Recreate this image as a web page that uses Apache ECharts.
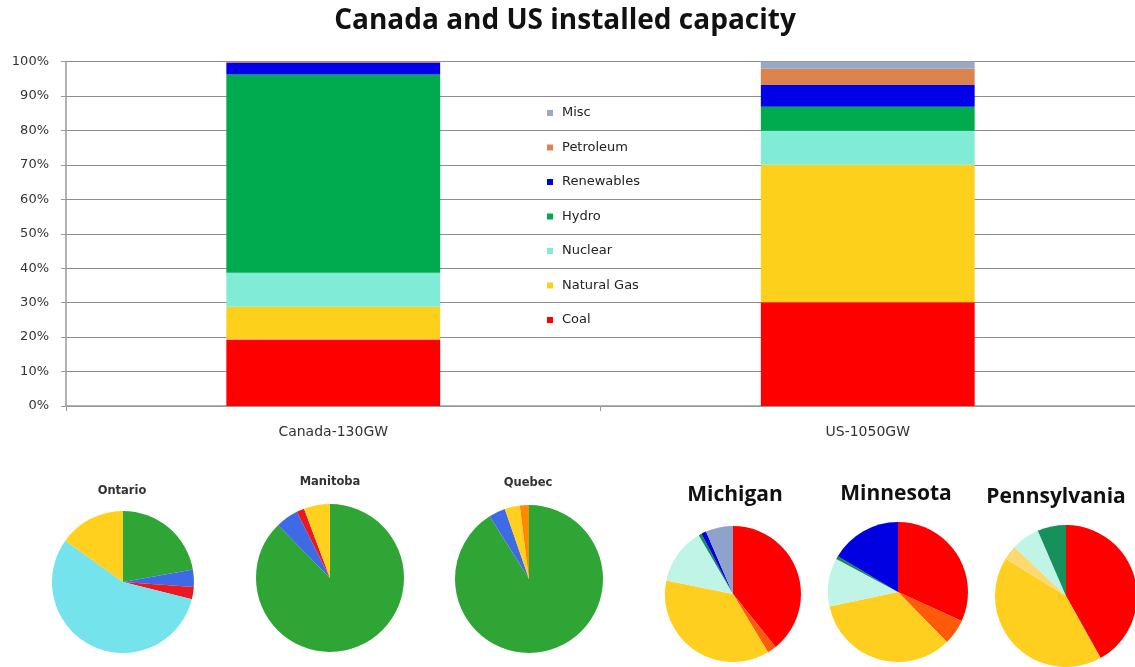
<!DOCTYPE html>
<html>
<head>
<meta charset="utf-8">
<script src="https://cdn.jsdelivr.net/npm/echarts@6/dist/echarts.min.js"></script>
<style>
  html, body { margin: 0; padding: 0; background: #fff; }
  #chart { width: 1135px; height: 667px; }
</style>
</head>
<body>
<div id="chart"></div>
<script>
// ---- Installed capacity share (%) by source ----
const countries = ['Canada-130GW', 'US-1050GW'];
const sources = ['Coal', 'Natural Gas', 'Nuclear', 'Hydro', 'Renewables', 'Petroleum', 'Misc'];
const coal       = [19.3, 30.1];
const naturalGas = [9.5, 39.9];
const nuclear    = [9.9, 9.9];
const hydro      = [57.5, 7.0];
const renewables = [3.5, 6.3];
const petroleum  = [0.3, 4.7];
const misc       = [0.0, 2.1];
const yTicks = [0, 10, 20, 30, 40, 50, 60, 70, 80, 90, 100];

// ---- Provincial / state mixes (share %, clockwise from 12 o'clock) ----
const ontarioNames   = ['Hydro', 'Renewables', 'Coal', 'Nuclear', 'Natural Gas'];
const ontarioValues  = [22.2, 3.9, 2.8, 56.0, 15.1];
const manitobaNames  = ['Hydro', 'Renewables', 'Coal', 'Natural Gas'];
const manitobaValues = [87.6, 5.0, 1.7, 5.7];
const quebecNames    = ['Hydro', 'Renewables', 'Natural Gas', 'Petroleum'];
const quebecValues   = [91.1, 3.6, 3.3, 2.0];
const michiganNames  = ['Coal', 'Petroleum', 'Natural Gas', 'Nuclear', 'Hydro', 'Renewables', 'Misc'];
const michiganValues = [39.2, 2.2, 36.8, 13.4, 0.7, 1.2, 6.5];
const minnesotaNames  = ['Coal', 'Petroleum', 'Natural Gas', 'Nuclear', 'Hydro', 'Renewables'];
const minnesotaValues = [31.8, 5.9, 34.0, 11.1, 0.7, 16.5];
const pennsylvaniaNames  = ['Coal', 'Natural Gas', 'Petroleum', 'Nuclear', 'Hydro'];
const pennsylvaniaValues = [41.9, 41.9, 3.3, 6.4, 6.5];

// ---- Styling ----
const barColors = {
  'Coal': '#fe0000', 'Natural Gas': '#fdd01c', 'Nuclear': '#80ecd6', 'Hydro': '#00aa4f',
  'Renewables': '#0000e8', 'Petroleum': '#dc844c', 'Misc': '#9aa8c8'
};
const provinceColors = {
  'Hydro': '#2fa536', 'Renewables': '#3e6ae6', 'Coal': '#ea1822', 'Nuclear': '#74e3ec',
  'Natural Gas': '#ffd11e', 'Petroleum': '#ff8a00'
};
const stateColors = {
  'Coal': '#ff0000', 'Petroleum': '#ff5a0a', 'Natural Gas': '#fecf1f', 'Nuclear': '#bff4e6',
  'Hydro': '#178c55', 'Renewables': '#0000e0', 'Misc': '#8ea2cc'
};
const stateColorsPA = Object.assign({}, stateColors, { 'Petroleum': '#fbd973', 'Hydro': '#16915e' });

const seriesValues = {
  'Coal': coal, 'Natural Gas': naturalGas, 'Nuclear': nuclear, 'Hydro': hydro,
  'Renewables': renewables, 'Petroleum': petroleum, 'Misc': misc
};

const labelFont = '"DejaVu Sans"';

const barSeries = sources.map(name => ({
  name: name,
  type: 'bar',
  stack: 'capacity',
  barWidth: '40%',
  data: seriesValues[name],
  itemStyle: { color: barColors[name] },
  emphasis: { disabled: true }
}));

function pie(names, values, colors, cx, cy, r) {
  return {
    type: 'pie',
    center: [cx, cy],
    radius: r,
    startAngle: 90,
    clockwise: true,
    label: { show: false },
    labelLine: { show: false },
    emphasis: { scale: false },
    itemStyle: { borderWidth: 0 },
    data: names.map((n, i) => ({ name: n, value: values[i], itemStyle: { color: colors[n] } }))
  };
}

const pieSeries = [
  pie(ontarioNames, ontarioValues, provinceColors, 123, 582, 71),
  pie(manitobaNames, manitobaValues, provinceColors, 330, 578, 74),
  pie(quebecNames, quebecValues, provinceColors, 529, 579, 74),
  pie(michiganNames, michiganValues, stateColors, 733, 594, 68),
  pie(minnesotaNames, minnesotaValues, stateColors, 898, 592, 70),
  pie(pennsylvaniaNames, pennsylvaniaValues, stateColorsPA, 1066, 596, 71)
];

function caption(text, x, y, size, color, family) {
  return {
    type: 'text', x: x, y: y, silent: true,
    style: {
      text: text, fill: color, align: 'center', verticalAlign: 'middle',
      font: 'bold ' + size + 'px ' + family
    }
  };
}

const chart = echarts.init(document.getElementById('chart'), null, { renderer: 'canvas' });
chart.setOption({
  backgroundColor: '#ffffff',
  animation: false,
  graphic: [
    caption('Canada and US installed capacity', 565, 21, 28, '#111', '"Open Sans"'),
    caption('Ontario', 122, 491, 11.5, '#333', labelFont),
    caption('Manitoba', 330, 482, 11.5, '#333', labelFont),
    caption('Quebec', 528, 483, 11.5, '#333', labelFont),
    caption('Michigan', 735, 495, 21, '#111', '"Open Sans"'),
    caption('Minnesota', 896, 494, 21, '#111', '"Open Sans"'),
    caption('Pennsylvania', 1056, 497, 21, '#111', '"Open Sans"')
  ],
  legend: {
    orient: 'vertical',
    left: 542,
    top: 101,
    itemWidth: 6,
    itemHeight: 6,
    itemGap: 20.5,
    icon: 'rect',
    selectedMode: false,
    data: sources.slice().reverse(),
    textStyle: { fontFamily: labelFont, fontSize: 13, color: '#222', lineHeight: 14, padding: [0, 0, 0, 4] }
  },
  grid: { left: 66, right: -3, top: 61.5, bottom: 261, containLabel: false },
  xAxis: {
    type: 'category',
    data: countries,
    axisLine: { lineStyle: { color: '#9a9a9a', width: 1.5 } },
    axisTick: { show: true, length: 5, lineStyle: { color: '#9a9a9a' } },
    axisLabel: { margin: 19, fontFamily: labelFont, fontSize: 14, color: '#333' }
  },
  yAxis: {
    type: 'value',
    min: yTicks[0],
    max: yTicks[yTicks.length - 1],
    interval: yTicks[1] - yTicks[0],
    axisLine: { show: true, lineStyle: { color: '#9a9a9a', width: 1.5 } },
    axisTick: { show: true, length: 5, lineStyle: { color: '#9a9a9a' } },
    splitLine: { lineStyle: { color: '#8c8c8c', width: 1.2 } },
    axisLabel: { margin: 17, formatter: '{value}%', fontFamily: labelFont, fontSize: 13, color: '#333' }
  },
  series: barSeries.concat(pieSeries)
});
</script>
</body>
</html>
